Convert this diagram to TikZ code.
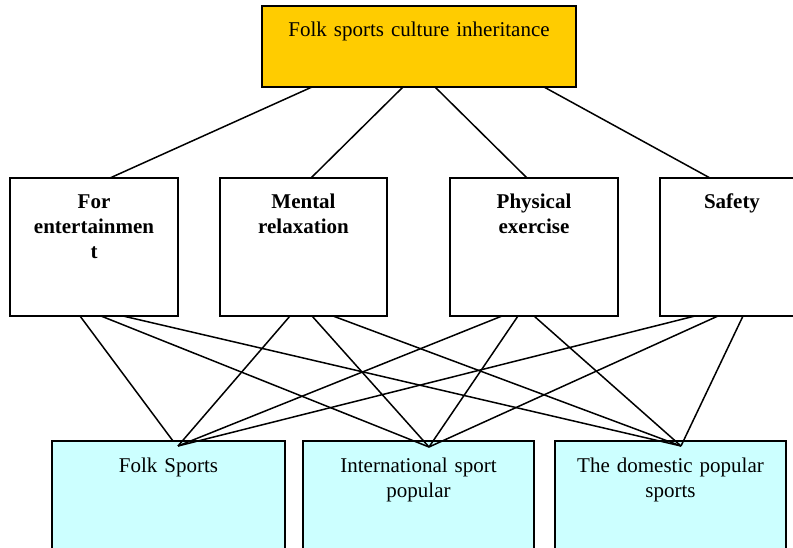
\documentclass[tikz,border=0pt]{standalone}
\usepackage{fontspec}
\setmainfont{Liberation Serif}
\definecolor{gold}{RGB}{255,204,0}
\definecolor{paleaqua}{RGB}{204,255,255}
\begin{document}
\begin{tikzpicture}[x=1pt,y=-1pt]
\tikzstyle{every node}+=[outer sep=0pt, inner xsep=6pt, inner ysep=16.5pt, text height=14.5pt, align=center, anchor=north west, font=\fontsize{21}{25}\selectfont]
\tikzstyle{goal}=[draw, line width=1.8pt, fill=gold, text width=302pt, text depth=33.5pt]
\tikzstyle{factor}=[draw, line width=1.8pt, fill=white, text depth=90.5pt, font=\fontsize{21}{25}\selectfont\bfseries]
\tikzstyle{choice}=[draw, line width=1.8pt, fill=paleaqua, text depth=71.5pt]
\tikzstyle{link}=[line width=1.5pt]
\useasboundingbox (0,0) rectangle (793,548);
\clip (0,0) rectangle (793,548);
% goal
\node [goal] (top) at (262,6) {Folk sports culture inheritance};
% criteria
\node [factor, text width=156pt] (m1) at (10,178) {For\\entertainmen\\t};
\node [factor, text width=155pt] (m2) at (220,178) {Mental\\relaxation};
\node [factor, text width=156pt] (m3) at (450,178) {Physical\\exercise};
\node [factor, text width=132pt] (m4) at (660,178) {Safety};
% alternatives
\node [choice, text width=221pt] (b1) at (52,441) {Folk Sports};
\node [choice, text width=219pt] (b2) at (303,441) {International sport\\popular};
\node [choice, text width=219pt] (b3) at (555,441) {The domestic popular\\sports};
\coordinate (b1top) at ([shift={(121,0)}]b1.north west);
\coordinate (b1in) at ([shift={(126,5)}]b1.north west);
\coordinate (b2in) at ([shift={(126,6)}]b2.north west);
\coordinate (b3in) at ([shift={(126,5)}]b3.north west);
% goal to criteria
\draw [link] ([xshift=50pt]top.south west) -- ([xshift=100pt]m1.north west);
\draw [link] ([xshift=141pt]top.south west) -- ([xshift=91pt]m2.north west);
\draw [link] ([xshift=173pt]top.south west) -- ([xshift=77pt]m3.north west);
\draw [link] ([xshift=282pt]top.south west) -- ([xshift=50pt]m4.north west);
% criteria to alternatives
\draw [link] ([xshift=70pt]m1.south west) -- (b1top);
\draw [link] ([xshift=91pt]m1.south west) -- (b2in);
\draw [link] ([xshift=113pt]m1.south west) -- (b3in);
\draw [link] ([xshift=70pt]m2.south west) -- (b1in);
\draw [link] ([xshift=92pt]m2.south west) -- (b2in);
\draw [link] ([xshift=113pt]m2.south west) -- (b3in);
\draw [link] ([xshift=52pt]m3.south west) -- (b1in);
\draw [link] ([xshift=68pt]m3.south west) -- (b2in);
\draw [link] ([xshift=84pt]m3.south west) -- (b3in);
\draw [link] ([xshift=35pt]m4.south west) -- (b1in);
\draw [link] ([xshift=58pt]m4.south west) -- (b2in);
\draw [link] ([xshift=83pt]m4.south west) -- (b3in);
\end{tikzpicture}
\end{document}
